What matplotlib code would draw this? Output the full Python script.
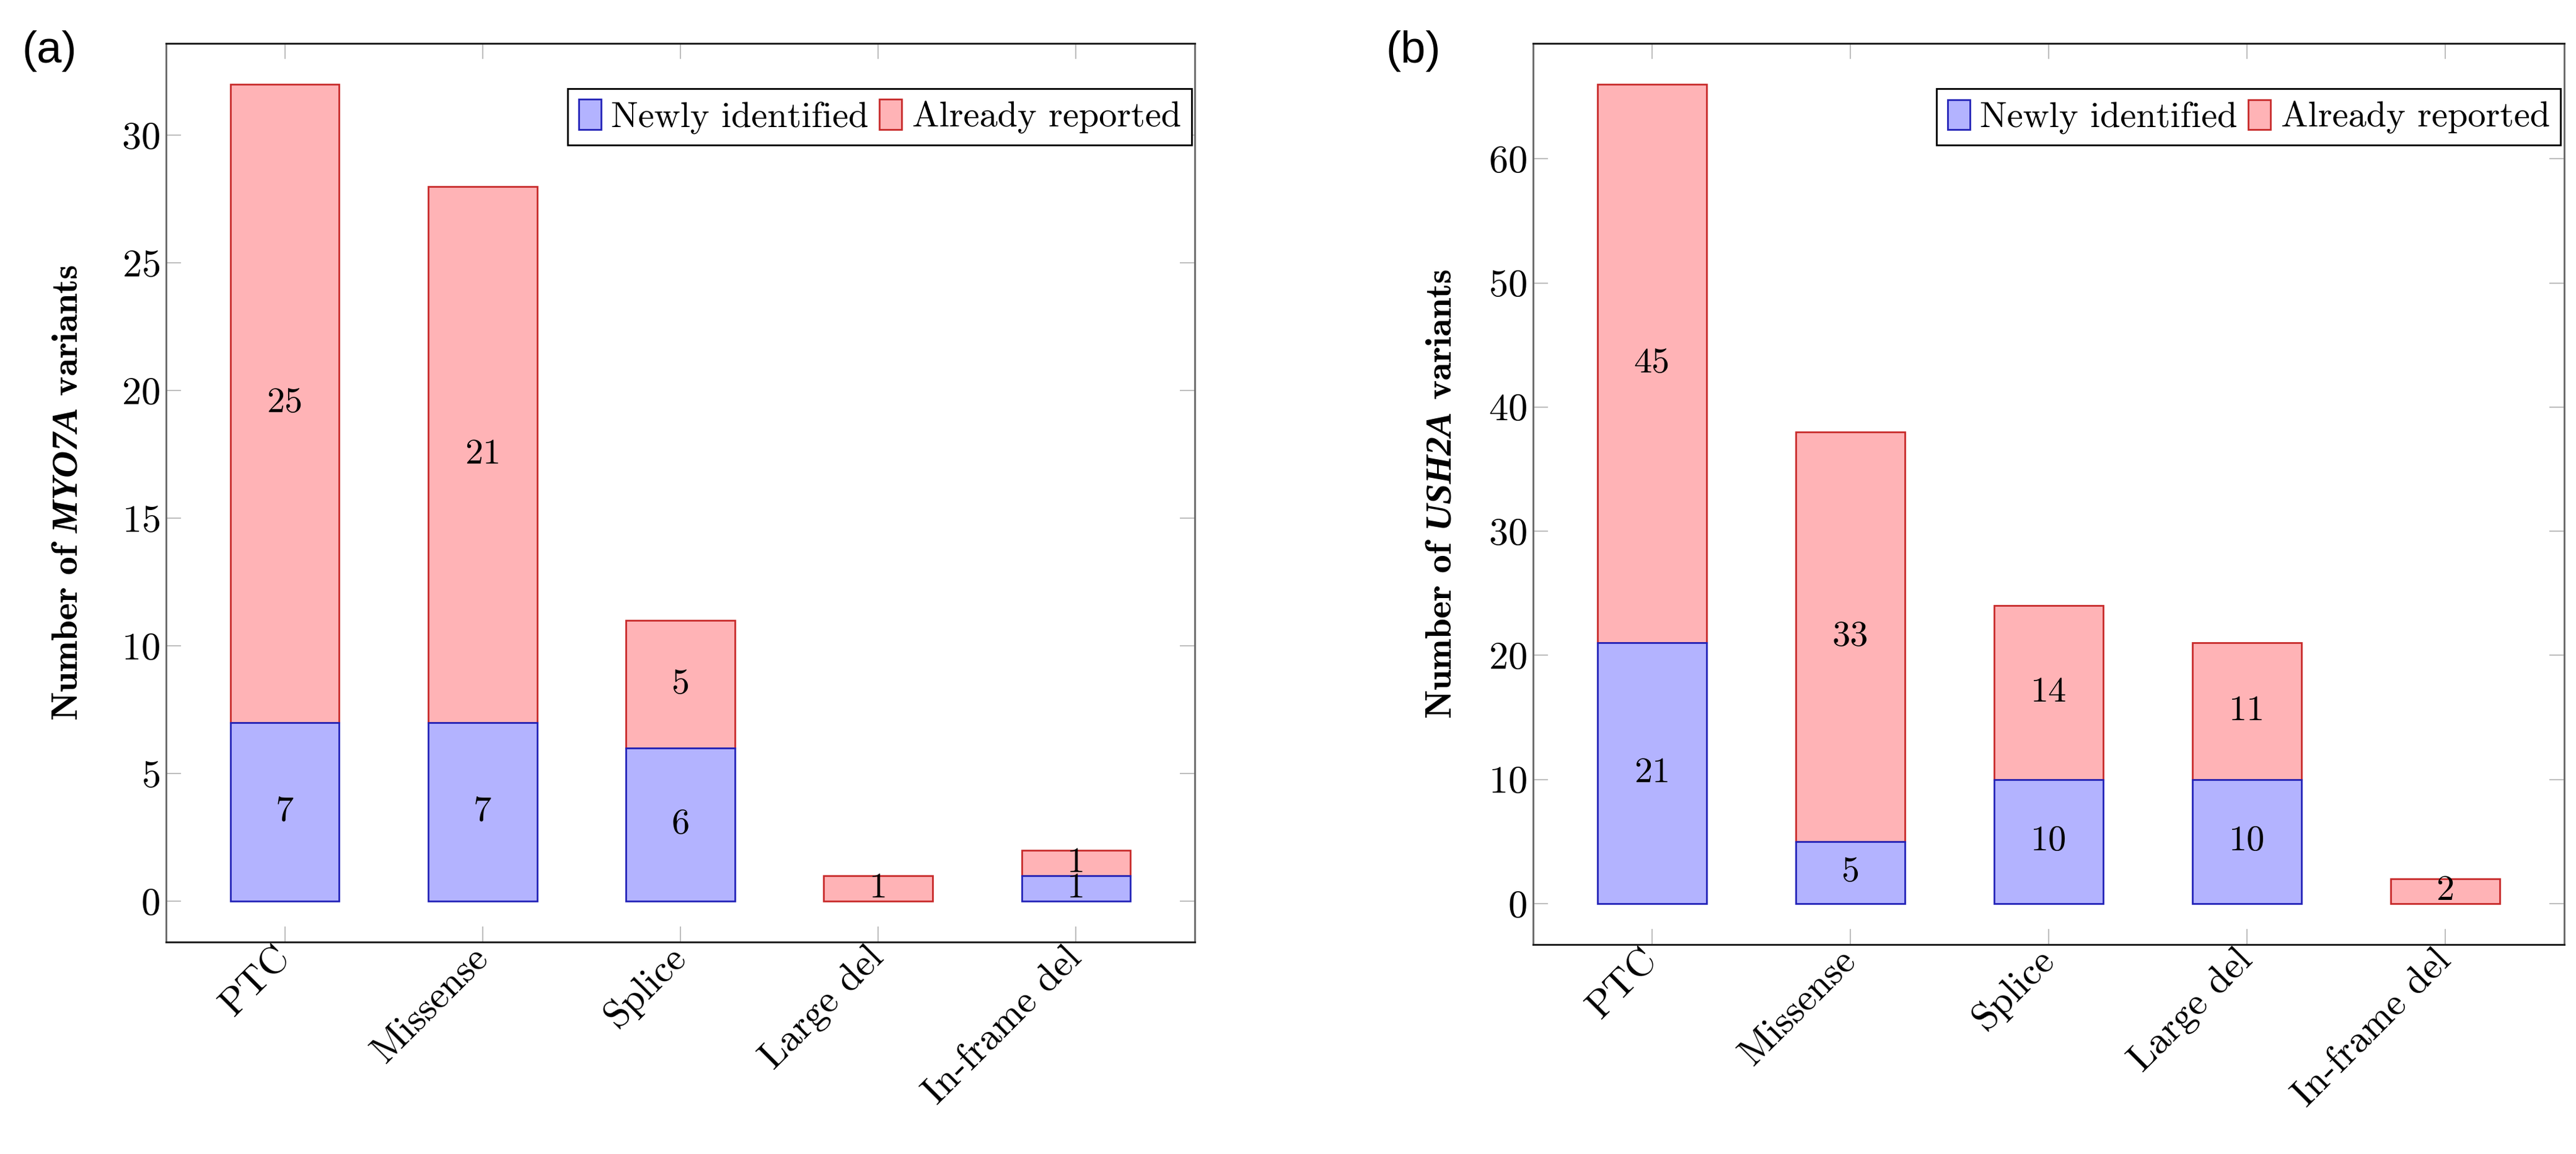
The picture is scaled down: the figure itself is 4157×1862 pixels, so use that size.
import numpy as np
import matplotlib.pyplot as plt

# --- data ---
categories = ['PTC', 'Missense', 'Splice', 'Large del', 'In-frame del']
myo7a_new = [7, 7, 6, 0, 1]
myo7a_reported = [25, 21, 5, 1, 1]
ush2a_new = [21, 5, 10, 10, 0]
ush2a_reported = [45, 33, 14, 11, 2]
myo7a_yticks = [0, 5, 10, 15, 20, 25, 30]
ush2a_yticks = [0, 10, 20, 30, 40, 50, 60]

plt.rcParams['font.family'] = 'cmr10'
plt.rcParams['axes.formatter.use_mathtext'] = True
plt.rcParams['mathtext.fontset'] = 'custom'
plt.rcParams['mathtext.rm'] = 'cmr10'
plt.rcParams['mathtext.bf'] = 'cmb10'
try:
    plt.rcParams['mathtext.bfit'] = 'Liberation Serif:italic:bold'
except KeyError:
    pass

fill_blue = '#b3b3ff'
edge_blue = '#2323b8'
fill_red = '#ffb3b6'
edge_red = '#c82a2a'
W, H = 4157, 1862


def draw_panel(ax, new, reported, gene, yticks, ylim, legend_right, label_x):
    x = np.arange(len(categories))
    red = ax.bar(x, reported, 0.55, bottom=new, color=fill_red, edgecolor=edge_red,
                 linewidth=2.0, label='Already reported', zorder=2)
    blue = ax.bar(x, new, 0.55, color=fill_blue, edgecolor=edge_blue,
                  linewidth=2.0, label='Newly identified', zorder=3)
    for rect, v in zip(blue, new):
        if v == 0:
            rect.set_visible(False)
    # segment labels (centre of each stacked piece)
    for i in x:
        if new[i] > 0:
            ax.text(i, new[i] / 2, str(new[i]), ha='center', va='center', fontsize=42, zorder=5)
        if reported[i] > 0:
            ax.text(i, new[i] + reported[i] / 2, str(reported[i]), ha='center', va='center',
                    fontsize=42, zorder=5)

    ax.set_xlim(-0.6, 4.6)
    ax.set_ylim(*ylim)
    ax.set_yticks(yticks)
    ax.set_xticks(x)
    ax.set_xticklabels(categories, rotation=45, ha='right', va='center', rotation_mode='anchor')
    ax.tick_params(axis='both', direction='in', top=True, right=True, color='#bdbdbd',
                   width=1.4, labelsize=45)
    ax.tick_params(axis='x', length=18, pad=12)
    ax.tick_params(axis='y', length=17, pad=7)
    for s in ['top', 'bottom']:
        ax.spines[s].set_color('#222222')
        ax.spines[s].set_linewidth(2.2)
    for s in ['left', 'right']:
        ax.spines[s].set_color('#666666')
        ax.spines[s].set_linewidth(2.0)

    ax.set_ylabel(r'$\mathbf{Number\ of\ }\mathbfit{' + gene + r'}\mathbf{\ variants}$', fontsize=43)
    ax.yaxis.set_label_coords(label_x, 0.5)

    leg = ax.legend(handles=[blue, red], loc='upper right', bbox_to_anchor=(legend_right, 0.9497),
                    ncol=2, fontsize=42, frameon=True, fancybox=False, edgecolor='black',
                    framealpha=1, borderpad=0.3, handlelength=0.62, handleheight=0.9,
                    handletextpad=0.28, columnspacing=0.3, borderaxespad=0)
    leg.get_frame().set_linewidth(2.0)


fig = plt.figure(figsize=(W / 100, H / 100), dpi=100)
ax1 = fig.add_axes([268 / W, 1 - 1520 / H, 1660 / W, 1450 / H])
ax2 = fig.add_axes([2474 / W, 1 - 1524 / H, 1664 / W, 1454 / H])

draw_panel(ax1, myo7a_new, myo7a_reported, 'MYO7A', myo7a_yticks, (-1.6, 33.6), 0.997, -0.079)
draw_panel(ax2, ush2a_new, ush2a_reported, 'USH2A', ush2a_yticks, (-3.3, 69.3), 0.9964, -0.0727)

fig.text(80 / W, 1 - 82 / H, '(a)', family='Liberation Sans', fontsize=52, ha='center', va='center')
fig.text(2281 / W, 1 - 82 / H, '(b)', family='Liberation Sans', fontsize=52, ha='center', va='center')

fig.savefig('out.png', dpi=100)
